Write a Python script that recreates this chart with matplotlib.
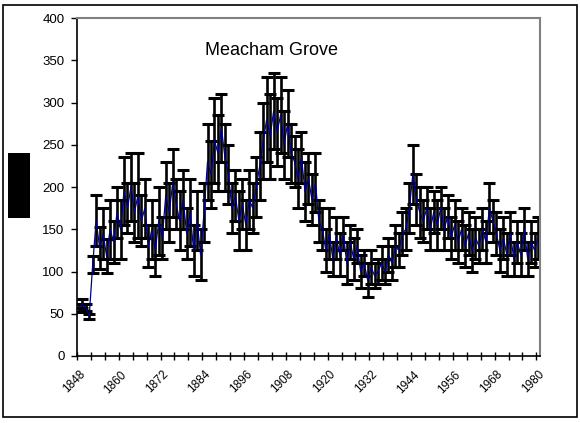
import numpy as np
import matplotlib
matplotlib.use("Agg")
import matplotlib.pyplot as plt
from matplotlib.patches import Rectangle

plt.rcParams['font.family'] = ['Liberation Sans', 'DejaVu Sans']

# ---------------------------------------------------------------- #
# data (one value per year)
first_year = 1848
values = [57, 62, 57, 47, 108,
          160, 128, 145, 118, 150,
          135, 170, 150, 195, 175,
          200, 170, 190, 160, 175,
          130, 150, 125, 160, 140,
          190, 170, 205, 180, 160,
          185, 145, 170, 125, 160,
          120, 170, 230, 215, 255,
          240, 270, 235, 215, 175,
          190, 160, 180, 155, 185,
          175, 200, 225, 255, 280,
          260, 290, 265, 285, 250,
          275, 240, 230, 210, 235,
          195, 210, 185, 205, 160,
          150, 125, 145, 115, 140,
          120, 145, 110, 135, 115,
          130, 100, 110, 90, 105,
          95, 100, 110, 100, 120,
          110, 130, 125, 145, 150,
          175, 215, 185, 170, 160,
          175, 150, 170, 155, 175,
          150, 165, 140, 155, 135,
          150, 130, 145, 125, 140,
          130, 150, 135, 175, 160,
          145, 125, 140, 120, 145,
          115, 135, 120, 150, 115,
          135, 125, 140]
errors = [5, 5, 4, 3, 10,
          30, 25, 30, 20, 35,
          25, 30, 35, 40, 30,
          40, 35, 50, 30, 35,
          25, 35, 30, 40, 25,
          40, 35, 40, 30, 35,
          35, 30, 40, 30, 35,
          30, 35, 45, 40, 50,
          45, 40, 40, 35, 30,
          30, 35, 30, 30, 35,
          30, 35, 40, 45, 50,
          50, 45, 40, 45, 40,
          40, 35, 30, 35, 30,
          35, 30, 30, 35, 25,
          25, 25, 30, 20, 25,
          25, 20, 25, 20, 25,
          20, 20, 15, 20, 20,
          15, 15, 20, 15, 20,
          20, 25, 20, 25, 25,
          30, 35, 30, 30, 25,
          25, 25, 25, 30, 25,
          25, 25, 25, 30, 25,
          25, 25, 25, 25, 25,
          20, 25, 25, 30, 25,
          25, 25, 25, 25, 25,
          20, 25, 25, 25, 20,
          25, 20, 25]
years = [first_year + i for i in range(len(values))]
title = "Meacham Grove"
y_ticks = [0, 50, 100, 150, 200, 250, 300, 350, 400]
label_step = 12
tick_step = 4

# ---------------------------------------------------------------- #
fig = plt.figure(figsize=(5.8, 4.23), dpi=100)
ax = fig.add_axes([0.1328, 0.1584, 0.798, 0.799])

x = np.arange(len(values))
ax.errorbar(x, values, yerr=errors, fmt='none', ecolor='k',
            elinewidth=1.9, capsize=4.2, capthick=2.2, zorder=2)
ax.plot(x, values, color='#000080', lw=0.9, zorder=3)

ax.set_xlim(-0.5, len(values) - 0.5)
ax.set_ylim(0, 400)
ax.set_yticks(y_ticks)
ax.tick_params(axis='y', direction='out', length=4, width=1, labelsize=9.5, pad=5)

# tick marks between categories, labels on every 12th year
ax.set_xticks(np.arange(-0.5, len(values), tick_step))
ax.set_xticklabels([])
ax.tick_params(axis='x', which='major', direction='inout', length=6, width=1)
ax.set_xticks(x[::label_step], minor=True)
ax.set_xticklabels([str(years[i]) for i in x[::label_step]], minor=True,
                   rotation=45, ha='right', rotation_mode='anchor', fontsize=8.5)
ax.tick_params(axis='x', which='minor', length=0, pad=9)

for s in ['top', 'right']:
    ax.spines[s].set_color('#808080')
    ax.spines[s].set_linewidth(1.5)
for s in ['left', 'bottom']:
    ax.spines[s].set_color('k')
    ax.spines[s].set_linewidth(1.2)

ax.text(0.42, 0.905, title, transform=ax.transAxes, ha='center', va='center', fontsize=13)

# blacked-out axis title on the left
fig.patches.append(Rectangle((0.0138, 0.4846), 0.0379, 0.1537, transform=fig.transFigure,
                             facecolor='k', edgecolor='none'))
# chart border
fig.patches.append(Rectangle((0.005, 0.014), 0.99, 0.975, transform=fig.transFigure,
                             facecolor='none', edgecolor='k', lw=1.2))

fig.savefig("out.png", dpi=100)
